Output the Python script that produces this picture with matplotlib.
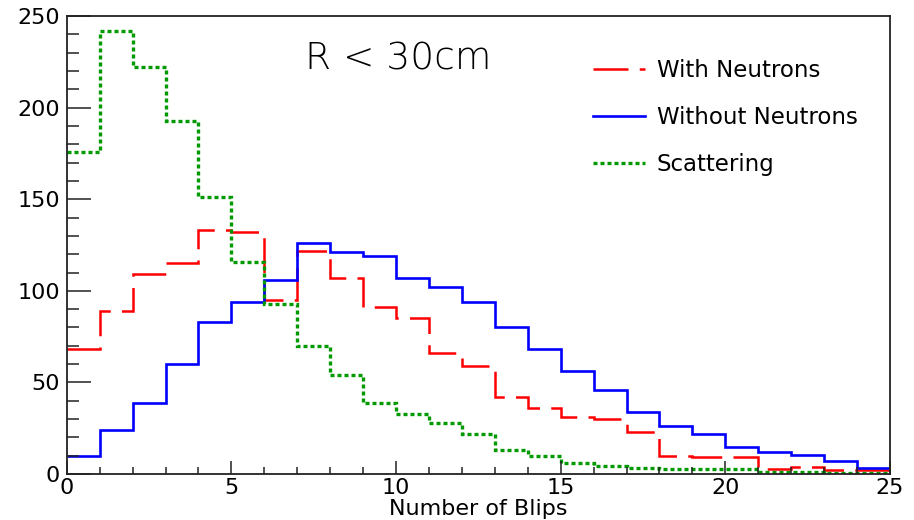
import numpy as np
import matplotlib
matplotlib.use("Agg")
import matplotlib.pyplot as plt
from matplotlib.lines import Line2D
from matplotlib.ticker import MultipleLocator

# bin edges: 25 bins of width 1, number of blips
edges = np.arange(0, 26)

with_neutrons = [68, 89, 109, 115, 133, 132, 95, 122, 107, 91, 85, 66, 59,
                 42, 36, 31, 30, 23, 10, 9, 9, 2.5, 4, 2, 2]
without_neutrons = [10, 24, 39, 60, 83, 94, 106, 126, 121, 119, 107, 102, 94,
                    80, 68, 56, 46, 34, 26, 22, 15, 12, 10.5, 7, 3]
scattering = [176, 242, 222, 193, 151, 116, 93, 70, 54, 39, 33, 28, 22,
              13, 10, 6, 4.5, 3, 2.5, 2.5, 2.5, 1, 1, 0.7, 0.3]

labels = ["With Neutrons", "Without Neutrons", "Scattering"]

plt.rcParams['font.family'] = ['DejaVu Sans']

fig = plt.figure(figsize=(9.14, 5.20), dpi=100)
ax = fig.add_axes([0.073, 0.0885, 0.9007, 0.8805])

red_style = dict(color='#ff0000', linewidth=1.8, linestyle=(0, (14, 4.5)))
blue_style = dict(color='#0000ff', linewidth=1.9, linestyle='-')
green_style = dict(color='#009900', linewidth=2.4, linestyle=(0, (1.2, 0.9)))

ax.stairs(with_neutrons, edges, baseline=None, **red_style)
ax.stairs(without_neutrons, edges, baseline=None, **blue_style)
ax.stairs(scattering, edges, baseline=None, **green_style)

ax.set_xlim(0, 25)
ax.set_ylim(0, 250)

ax.xaxis.set_major_locator(MultipleLocator(5))
ax.xaxis.set_minor_locator(MultipleLocator(1))
ax.yaxis.set_major_locator(MultipleLocator(50))
ax.yaxis.set_minor_locator(MultipleLocator(10))

ax.tick_params(axis='both', which='both', direction='in', top=False, right=False,
               labelsize=16, width=1.1, color='#222222')
ax.tick_params(axis='y', which='major', length=17, pad=5)
ax.tick_params(axis='y', which='minor', length=8.5)
ax.tick_params(axis='x', which='major', length=9.5, pad=3)
ax.tick_params(axis='x', which='minor', length=5)

for s in ax.spines.values():
    s.set_linewidth(1.3)
    s.set_color('#222222')

# x axis title, centred under the axis
fig.text(ax.get_position().x0 + ax.get_position().width / 2, 1 - 515 / 520,
         "Number of Blips", ha='center', va='baseline', fontsize=16)

# region label
fig.text(305 / 914, 1 - 70 / 520, "R < 30cm", ha='left', va='baseline',
         fontsize=27, fontweight='light')

handles = [Line2D([], [], **red_style), Line2D([], [], **blue_style),
           Line2D([], [], **green_style)]
fig.legend(handles, labels, loc='upper left', bbox_to_anchor=(593 / 914, 1 - 59 / 520),
           frameon=False, fontsize=16.5, handlelength=2.27, handletextpad=0.52,
           labelspacing=1.05, borderpad=0, borderaxespad=0)

fig.savefig("out.png", dpi=100)
